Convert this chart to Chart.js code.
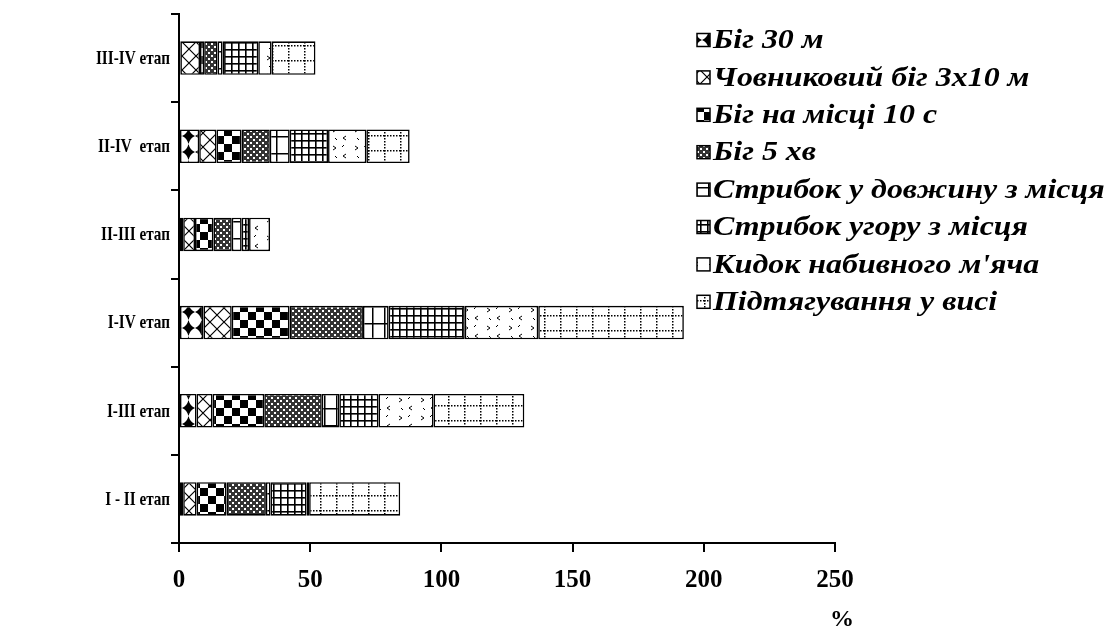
<!DOCTYPE html>
<html>
<head>
<meta charset="utf-8">
<script src="https://cdn.jsdelivr.net/npm/chart.js@4"></script>
<style>
  html, body { margin: 0; padding: 0; background: #fff; }
  #wrap { width: 1112px; height: 638px; }
</style>
</head>
<body>
<div id="wrap"><canvas id="chart" width="1112" height="638"></canvas></div>
<script>
// --- дані ---
const stages = ['III-IV етап', 'II-IV  етап', 'II-III етап', 'I-IV етап', 'I-III етап', 'I - II етап'];
const seriesNames = ['Біг 30 м', 'Човниковий біг 3х10 м', 'Біг на місці 10 с', 'Біг 5 хв',
                     'Стрибок у довжину з місця', 'Стрибок угору з місця', "Кидок набивного м'яча", 'Підтягування у висі'];
const run30      = [0.5, 7.7, 1.6, 9.3, 6.7, 1.6];
const shuttle    = [7.5, 6.6, 4.5, 10.8, 6.1, 5.1];
const runPlace   = [1.6, 9.5, 7.0, 22.0, 19.7, 11.4];
const run5       = [5.1, 10.8, 7.0, 28.0, 21.9, 15.0];
const longJump   = [1.9, 7.6, 3.8, 9.8, 6.7, 1.8];
const highJump   = [13.6, 14.6, 2.8, 29.0, 14.9, 13.7];
const ballThrow  = [5.1, 14.6, 8.0, 28.0, 21.0, 1.0];
const pullUps    = [16.7, 16.5, 0, 55.5, 34.6, 34.7];
const xTicks     = [0, 50, 100, 150, 200, 250];

const FONT = "'Liberation Serif', 'Times New Roman', serif";

// --- візерунки заливки ---
function makePattern(w, h, draw) {
    const c = document.createElement('canvas');
    c.width = w; c.height = h;
    const g = c.getContext('2d');
    g.fillStyle = '#fff';
    g.fillRect(0, 0, w, h);
    g.fillStyle = '#000';
    g.strokeStyle = '#000';
    draw(g, w, h);
    return document.getElementById('chart').getContext('2d').createPattern(c, 'repeat');
}

const patterns = [
    makePattern(13, 16, (g) => {        // ромби
        g.beginPath();
        g.moveTo(6.5, 0); g.quadraticCurveTo(8, 6, 13, 8); g.quadraticCurveTo(8, 10, 6.5, 16);
        g.quadraticCurveTo(5, 10, 0, 8); g.quadraticCurveTo(5, 6, 6.5, 0);
        g.fill();
    }),
    makePattern(14, 14, (g) => {        // косі хрести
        g.lineWidth = 1.2;
        g.beginPath();
        g.moveTo(0, 0); g.lineTo(14, 14);
        g.moveTo(14, 0); g.lineTo(0, 14);
        g.stroke();
    }),
    makePattern(16, 16, (g) => {        // велика шахівниця
        g.fillRect(0, 0, 8, 8);
        g.fillRect(8, 8, 8, 8);
    }),
    makePattern(6, 6, (g) => {          // дрібна шахівниця
        g.fillStyle = '#333';
        g.fillRect(0, 0, 6, 6);
        g.fillStyle = '#fff';
        g.fillRect(1, 1, 2, 2);
        g.fillRect(4, 4, 2, 2);
    }),
    makePattern(12, 17, (g) => {        // рамки
        g.fillRect(0, 0, 1.5, 17);
        g.fillRect(0, 0, 12, 1.5);
    }),
    makePattern(7, 7, (g) => {          // сітка
        g.fillRect(0, 0, 1.6, 7);
        g.fillRect(0, 0, 7, 1.6);
    }),
    makePattern(22, 18, (g) => {        // дрібні знаки
        g.lineWidth = 1;
        g.beginPath();
        g.moveTo(3, 2); g.lineTo(6, 4); g.lineTo(3, 6);
        g.moveTo(16, 10); g.lineTo(13, 12); g.lineTo(16, 14);
        g.moveTo(14, 1); g.lineTo(12, 3);
        g.moveTo(5, 12); g.lineTo(7, 14);
        g.stroke();
    }),
    makePattern(16, 15, (g) => {        // пунктирна сітка
        for (let x = 0; x < 16; x += 3) g.fillRect(x, 0, 1.5, 1.5);
        for (let y = 0; y < 15; y += 3) g.fillRect(0, y, 1.5, 1.5);
    })
];

const seriesData = [run30, shuttle, runPlace, run5, longJump, highJump, ballThrow, pullUps];

const datasets = seriesData.map((arr, i) => ({
    label: seriesNames[i],
    data: arr,
    backgroundColor: patterns[i],
    borderColor: '#000',
    borderWidth: 1.6,
    borderSkipped: false,
    barPercentage: 0.38,
    categoryPercentage: 1
}));

// текст із горизонтальним розтягом
function stretchText(ctx, text, x, y, sx) {
    ctx.save();
    ctx.translate(x, y);
    ctx.scale(sx, 1);
    ctx.fillText(text, 0, 0);
    ctx.restore();
}

// підписи етапів, легенда та "%"
const extrasPlugin = {
    id: 'extras',
    afterDraw(chart) {
        const ctx = chart.ctx;
        const area = chart.chartArea;
        const ys = chart.scales.y;
        const xs = chart.scales.x;
        ctx.save();
        ctx.fillStyle = '#000';

        ctx.font = `bold 19px ${FONT}`;
        ctx.textBaseline = 'middle';
        ctx.textAlign = 'right';
        stages.forEach((s, i) => {
            stretchText(ctx, s, ys.right - 9, ys.getPixelForValue(i) + 1, 0.8);
        });

        const x0 = area.right - 138;
        let y = area.top + 26;
        ctx.font = `italic bold 28px ${FONT}`;
        ctx.textAlign = 'left';
        seriesNames.forEach((name, i) => {
            ctx.fillStyle = patterns[i];
            ctx.fillRect(x0, y - 6.5, 13, 13);
            ctx.strokeStyle = '#000';
            ctx.lineWidth = 1.5;
            ctx.strokeRect(x0, y - 6.5, 13, 13);
            ctx.fillStyle = '#000';
            stretchText(ctx, name, x0 + 16, y + 1, 1.14);
            y += 37.4;
        });

        ctx.font = `bold 24px ${FONT}`;
        ctx.textAlign = 'center';
        ctx.fillText('%', xs.right + 7, chart.height - 18);
        ctx.restore();
    }
};

new Chart(document.getElementById('chart'), {
    type: 'bar',
    data: { labels: stages, datasets: datasets },
    options: {
        indexAxis: 'y',
        responsive: false,
        animation: false,
        layout: { padding: { top: 14, right: 277, left: 0, bottom: 0 } },
        plugins: { legend: { display: false }, tooltip: { enabled: false } },
        scales: {
            x: {
                stacked: true,
                min: 0,
                max: 250,
                afterBuildTicks: (s) => { s.ticks = xTicks.map(v => ({ value: v })); },
                afterFit: (s) => { s.height = 95; },
                grid: { drawOnChartArea: false, color: '#000', lineWidth: 2, tickLength: 9 },
                border: { color: '#000', width: 2 },
                ticks: { color: '#000', font: { family: FONT, size: 25, weight: 'bold' }, padding: 14 }
            },
            y: {
                stacked: true,
                afterFit: (s) => { s.width = 179; },
                grid: { drawOnChartArea: false, color: '#000', lineWidth: 2, tickLength: 8, offset: true },
                border: { color: '#000', width: 2 },
                ticks: { display: false }
            }
        }
    },
    plugins: [extrasPlugin]
});
</script>
</body>
</html>
